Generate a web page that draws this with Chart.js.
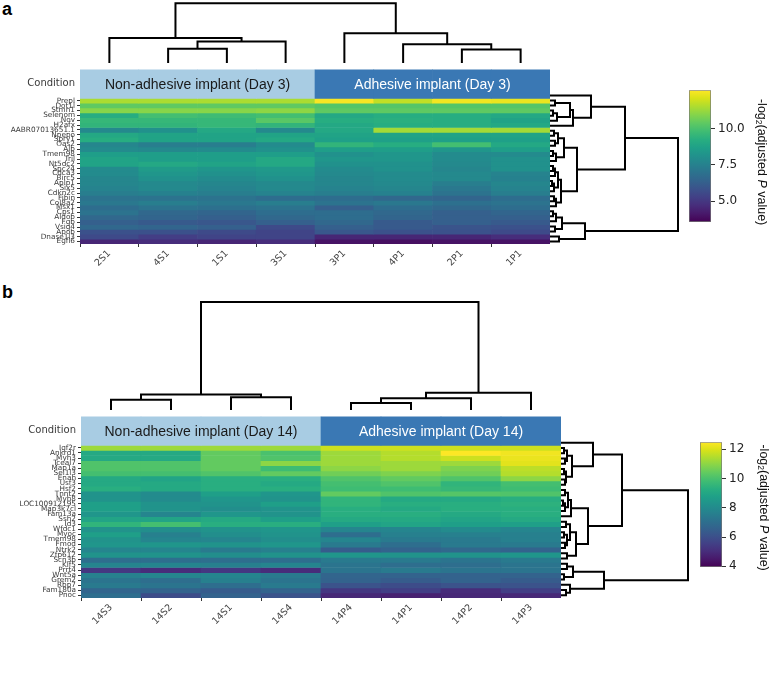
<!DOCTYPE html>
<html>
<head>
<meta charset="utf-8">
<script src="https://cdn.jsdelivr.net/npm/chart.js@4.4.1/dist/chart.umd.min.js"></script>
<style>
  body { margin: 0; background: #fff; width: 771px; height: 685px; position: relative; overflow: hidden; }
  canvas { position: absolute; }
  .panel { position: absolute; font: bold 18px 'Liberation Sans', Arial, sans-serif; color: #000; }
</style>
</head>
<body>
<div class="panel" style="left:2px;top:-1px">a</div>
<div class="panel" style="left:2px;top:282px">b</div>
<script>
/* ================= Data: panel a (Day 3) ================= */

const genesA = ['Prepl', 'Dot1l', 'Stmn1', 'Selenom', 'Nov', 'H2afx', 'AABR07013651.1', 'Npepo', 'Spry1', 'Oas2',
  'Alb', 'Tmem98', 'Tril', 'Nt5dc2', 'Spc24', 'Cdca3', 'Birc5', 'Aplp1', 'Six5', 'Cdkn2c',
  'Fibin', 'Col8a2', 'Msx1', 'Cps1', 'Aldob', 'Fgb', 'Vsig4', 'Apob', 'Dnase1l3', 'Egfl6'];
const samplesA = ['2S1', '4S1', '1S1', '3S1', '3P1', '4P1', '2P1', '1P1'];
const groupOfA = [0, 0, 0, 0, 1, 1, 1, 1];
const groupsA = ['Non-adhesive implant (Day 3)', 'Adhesive implant (Day 3)'];
const valuesA = [
  [11.5, 11.5, 11.5, 11.5, 12.6, 11.8, 12.5, 12.4],
  [10.4, 10.4, 10.4, 10.4, 10.2, 10.2, 10.2, 10.2],
  [11.0, 11.0, 11.0, 11.1, 10.4, 10.4, 10.4, 10.4],
  [9.2, 9.9, 9.8, 9.9, 9.0, 9.2, 9.2, 9.0],
  [9.6, 9.6, 9.6, 10.3, 9.2, 9.3, 9.2, 8.8],
  [9.5, 9.5, 9.6, 9.5, 9.0, 9.2, 9.2, 9.0],
  [7.8, 8.1, 9.0, 7.8, 9.0, 11.4, 11.4, 11.4],
  [9.0, 8.8, 8.8, 8.8, 8.8, 8.8, 8.8, 8.8],
  [9.2, 8.8, 8.8, 9.0, 8.7, 8.7, 8.7, 8.7],
  [7.7, 7.4, 7.4, 7.9, 9.5, 9.2, 9.9, 9.0],
  [7.9, 7.8, 7.9, 8.1, 8.6, 8.6, 8.3, 8.6],
  [8.6, 8.6, 8.6, 8.6, 8.1, 8.3, 7.9, 7.9],
  [8.8, 8.6, 8.6, 9.0, 8.3, 8.3, 7.9, 8.1],
  [8.8, 9.0, 8.8, 9.0, 8.1, 8.1, 7.8, 8.1],
  [7.9, 8.5, 8.3, 8.4, 7.9, 8.1, 7.7, 8.1],
  [7.9, 8.3, 8.1, 8.3, 7.8, 7.9, 7.8, 7.6],
  [7.7, 8.1, 7.9, 8.1, 7.7, 7.9, 7.8, 7.5],
  [7.7, 7.8, 7.7, 7.8, 7.7, 7.8, 7.4, 7.7],
  [7.6, 7.8, 7.6, 7.8, 7.6, 7.7, 7.2, 7.6],
  [7.4, 7.5, 7.4, 7.6, 7.4, 7.5, 7.0, 7.4],
  [7.0, 7.0, 7.0, 6.8, 6.8, 6.6, 6.5, 6.8],
  [7.2, 7.4, 7.2, 7.4, 7.0, 7.2, 6.9, 7.0],
  [6.8, 7.0, 6.9, 7.0, 6.3, 6.8, 6.6, 6.8],
  [7.0, 6.6, 6.5, 6.8, 6.8, 6.6, 6.3, 6.5],
  [6.6, 6.5, 6.3, 6.6, 6.8, 6.5, 6.3, 6.3],
  [6.3, 6.1, 6.0, 6.3, 6.6, 6.1, 6.3, 6.1],
  [6.6, 6.5, 6.3, 5.6, 6.3, 6.1, 5.9, 5.8],
  [5.8, 5.8, 5.6, 5.4, 6.0, 5.8, 5.8, 5.6],
  [5.6, 5.2, 5.4, 5.4, 4.5, 4.5, 4.5, 4.7],
  [4.5, 4.7, 4.5, 4.7, 4.0, 3.9, 4.0, 4.0]
];
// linkage: [child, child, height]; leaves are numbered in display order
const colLinkA = [[1, 2, 14.3], [8, 3, 21.5], [0, 9, 24.9], [6, 7, 13.6], [5, 11, 18.8], [4, 12, 29.7], [10, 13, 59.7]];
const rowLinkA = [
  [1, 2, 5], [3, 4, 3], [31, 5, 7], [30, 32, 20], [33, 6, 23], [0, 34, 41],
  [7, 8, 4], [9, 10, 5], [36, 37, 8], [11, 12, 3], [39, 13, 6], [38, 40, 14],
  [14, 15, 3], [42, 16, 5], [17, 18, 2], [44, 19, 4], [43, 45, 8], [20, 21, 4], [47, 22, 6], [46, 48, 11],
  [41, 49, 27], [35, 50, 75],
  [23, 24, 3], [52, 25, 6], [26, 27, 5], [53, 54, 12], [28, 29, 9], [55, 56, 35],
  [51, 57, 128]
];
const rangeA = [3.56, 12.67];
const cbarTicksA = [5.0, 7.5, 10.0];
const cbarLabelsA = ['5.0', '7.5', '10.0'];

/* ================= Data: panel b (Day 14) ================= */

const genesB = ['Igf2r', 'Ankrd1', 'Myh3', 'Tceal7', 'Map1a', 'Sel1l3', 'Enah', 'Usf3', 'Hsf2', 'Tnnt2',
  'Myh8', 'LOC100912195', 'Map3k7cl', 'Fam13a', 'Ssh2', 'Id3', 'Wfdc1', 'Myoc', 'Tmem98', 'Fmod',
  'Ntrk2', 'Zfp612', 'Scn3b', 'Klf5', 'Prrt4', 'Wnt5a', 'Grem2', 'Rbp7', 'Fam180a', 'Pnoc'];
const samplesB = ['14S3', '14S2', '14S1', '14S4', '14P4', '14P1', '14P2', '14P3'];
const groupOfB = [0, 0, 0, 0, 1, 1, 1, 1];
const groupsB = ['Non-adhesive implant (Day 14)', 'Adhesive implant (Day 14)'];
const valuesB = [
  [11.2, 11.2, 11.2, 11.2, 11.8, 11.8, 11.8, 11.8],
  [9.1, 9.1, 10.4, 10.0, 11.2, 11.5, 12.5, 12.3],
  [9.1, 9.1, 10.4, 10.1, 11.2, 11.5, 11.8, 12.2],
  [10.1, 10.1, 10.4, 11.0, 11.2, 11.2, 11.2, 12.1],
  [10.1, 10.1, 10.4, 9.8, 11.0, 11.2, 10.8, 11.6],
  [9.9, 9.9, 10.1, 10.4, 10.6, 10.8, 10.6, 11.5],
  [9.1, 8.9, 9.3, 9.3, 10.1, 10.4, 10.1, 11.0],
  [9.1, 9.1, 9.3, 9.1, 9.9, 10.1, 9.5, 9.9],
  [9.3, 9.1, 9.3, 9.3, 9.8, 9.8, 9.6, 9.8],
  [8.3, 8.0, 8.7, 8.4, 10.4, 10.1, 10.2, 10.1],
  [8.3, 8.0, 8.4, 8.3, 9.5, 9.1, 9.1, 9.3],
  [8.7, 8.3, 8.3, 8.7, 9.5, 9.3, 9.3, 9.4],
  [8.7, 8.3, 8.1, 8.3, 9.3, 9.1, 9.3, 9.3],
  [8.4, 7.8, 8.4, 8.3, 9.3, 9.3, 9.1, 9.3],
  [8.9, 8.9, 9.1, 8.7, 9.1, 9.1, 8.9, 9.1],
  [9.5, 9.9, 9.3, 9.3, 8.7, 8.9, 8.7, 8.7],
  [8.3, 8.1, 8.3, 8.4, 7.8, 7.8, 8.0, 7.8],
  [8.7, 7.6, 8.1, 8.3, 7.0, 7.6, 7.6, 7.6],
  [8.3, 7.8, 7.8, 8.1, 7.8, 7.4, 7.4, 7.6],
  [8.4, 8.4, 8.3, 8.4, 7.4, 7.0, 7.4, 7.4],
  [7.8, 7.8, 7.4, 7.6, 6.4, 6.6, 6.8, 6.6],
  [8.3, 8.3, 8.1, 8.3, 8.4, 8.3, 8.3, 8.4],
  [7.0, 7.0, 7.0, 7.0, 7.4, 7.4, 7.2, 7.4],
  [7.8, 7.8, 7.6, 7.8, 7.2, 7.0, 7.0, 7.2],
  [5.3, 5.0, 5.3, 5.0, 7.2, 7.4, 7.2, 7.2],
  [7.6, 7.8, 7.8, 7.4, 6.7, 6.6, 6.6, 6.6],
  [7.2, 7.0, 7.6, 7.2, 6.6, 6.4, 6.6, 6.4],
  [7.4, 7.2, 7.0, 7.4, 6.1, 5.9, 6.1, 6.1],
  [6.7, 6.6, 6.4, 6.6, 5.3, 5.5, 5.0, 5.5],
  [7.0, 5.9, 6.6, 6.1, 4.9, 4.7, 4.9, 4.9]
];
const colLinkB = [[0, 1, 10.3], [2, 3, 12.8], [8, 9, 15.5], [4, 5, 6.9], [11, 6, 11.7], [12, 7, 17.2], [10, 13, 108]];
const rowLinkB = [
  [1, 2, 3], [3, 4, 4], [30, 31, 6], [5, 6, 3], [7, 8, 4], [33, 34, 5], [32, 35, 11], [0, 36, 32],
  [9, 10, 4], [11, 12, 2], [39, 13, 4], [38, 40, 7], [41, 14, 10],
  [15, 16, 5], [17, 18, 3], [19, 20, 4], [44, 45, 6], [43, 46, 9], [21, 22, 6], [47, 48, 15],
  [42, 49, 27], [37, 50, 61],
  [23, 24, 6], [25, 26, 3], [52, 53, 12], [28, 29, 5], [27, 55, 9], [54, 56, 43],
  [51, 57, 127]
];
const rangeB = [3.95, 12.48];
const cbarTicksB = [4, 6, 8, 10, 12];
const cbarLabelsB = ['4', '6', '8', '10', '12'];

/* ================= Helpers ================= */

Chart.defaults.font.family = "'DejaVu Sans', sans-serif";
const GROUP_COLORS = ['#a8cce3', '#3a78b4'];
const VIRIDIS = ['#440154', '#48186a', '#472d7b', '#424086', '#3b528b', '#33638d', '#2c728e', '#26828e',
  '#21918c', '#1fa088', '#28ae80', '#3fbc73', '#5ec962', '#84d44b', '#addc30', '#d8e219', '#fde725'];

function hexRgb(h) { return [1, 3, 5].map(i => parseInt(h.substr(i, 2), 16)); }

function viridis(t) {
  t = Math.max(0, Math.min(1, t));
  const n = VIRIDIS.length - 1;
  const i = Math.min(n - 1, Math.floor(t * n));
  const f = t * n - i;
  const a = hexRgb(VIRIDIS[i]), b = hexRgb(VIRIDIS[i + 1]);
  return 'rgb(' + a.map((v, k) => Math.round(v + (b[k] - v) * f)).join(',') + ')';
}

function makeCanvas(left, top, w, h) {
  const c = document.createElement('canvas');
  c.width = w; c.height = h;
  c.style.left = left + 'px'; c.style.top = top + 'px';
  c.style.width = w + 'px'; c.style.height = h + 'px';
  document.body.appendChild(c);
  return c;
}

// text inside the condition bar
const condText = {
  id: 'condText',
  afterDatasetsDraw(chart, args, o) {
    const { ctx, scales: { x, y } } = chart;
    const yc = y.getPixelForValue(-o.units / 2);
    o.groups.forEach((g, k) => {
      const idx = o.groupOf.map((v, j) => v === k ? j : -1).filter(j => j >= 0);
      const xc = (x.getPixelForValue(idx[0]) + x.getPixelForValue(idx[idx.length - 1])) / 2;
      ctx.save();
      ctx.font = "14px 'Liberation Sans', Arial, sans-serif";
      ctx.fillStyle = k === 0 ? '#1a1a1a' : '#ffffff';
      ctx.textAlign = 'center';
      ctx.textBaseline = 'middle';
      ctx.fillText(g, xc, yc + 1);
      ctx.restore();
    });
  }
};

function heatmap(L, genes, samples, groupOf, groups, values, range) {
  const canvas = makeCanvas(L.left, L.top, L.width, L.height);
  const chartH = L.height - L.xH;
  const units = L.barPx * genes.length / (chartH - L.barPx);
  const color = v => viridis((v - range[0]) / (range[1] - range[0]));
  const datasets = [{
    data: samples.map(() => [-units, 0]),
    backgroundColor: groupOf.map(g => GROUP_COLORS[g])
  }].concat(genes.map((g, r) => ({
    data: samples.map(() => [r, r + 1]),
    backgroundColor: values[r].map(color)
  })));

  new Chart(canvas, {
    type: 'bar',
    data: { labels: samples, datasets: datasets },
    options: {
      responsive: false,
      animation: false,
      layout: { padding: 0 },
      datasets: { bar: { barPercentage: 1, categoryPercentage: 1, borderWidth: 0, grouped: false } },
      plugins: {
        legend: { display: false },
        tooltip: { enabled: false },
        condText: { units: units, groups: groups, groupOf: groupOf }
      },
      scales: {
        x: {
          grid: { drawOnChartArea: false, tickLength: 3, color: '#333' },
          border: { display: false },
          ticks: { minRotation: 45, maxRotation: 45, autoSkip: false, padding: 1, color: '#444', font: { size: 9.5 } },
          afterFit: s => { s.height = L.xH; }
        },
        y: {
          type: 'linear',
          reverse: true,
          min: -units,
          max: genes.length,
          afterBuildTicks: s => {
            s.ticks = [{ value: -units / 2 }].concat(genes.map((g, i) => ({ value: i + 0.5 })));
          },
          ticks: {
            autoSkip: false,
            padding: 2,
            color: '#3a3a3a',
            font: c => (c.tick && c.tick.value < 0) ? { size: 10 } : { size: 7.3 },
            callback: v => v < 0 ? 'Condition' : genes[Math.floor(v)]
          },
          grid: {
            drawOnChartArea: false,
            tickLength: 3,
            color: c => (c.tick && c.tick.value < 0) ? 'rgba(0,0,0,0)' : '#333'
          },
          border: { display: false },
          afterFit: s => { s.width = L.yW; }
        }
      }
    },
    plugins: [condText]
  });
}

// U-shaped links from a linkage table, in data units (leaf position, height)
function linkSegments(link, n) {
  const pos = [], hgt = [];
  for (let i = 0; i < n; i++) { pos[i] = i + 0.5; hgt[i] = 0; }
  return link.map(([a, b, h], k) => {
    pos[n + k] = (pos[a] + pos[b]) / 2;
    hgt[n + k] = h;
    return [[pos[a], hgt[a]], [pos[a], h], [pos[b], h], [pos[b], hgt[b]]];
  });
}

function dendrogram(box, link, n, orient, hMax) {
  const pad = 3;
  const canvas = makeCanvas(box.left - pad, box.top - pad, box.width + 2 * pad, box.height + 2 * pad);
  const segs = linkSegments(link, n);
  const isCol = orient === 'col';
  new Chart(canvas, {
    type: 'scatter',
    data: {
      datasets: segs.map(s => ({
        data: s.map(([p, h]) => isCol ? { x: p, y: h } : { x: h, y: p }),
        showLine: true,
        borderColor: '#000',
        borderWidth: 2,
        pointRadius: 0,
        clip: false
      }))
    },
    options: {
      responsive: false,
      animation: false,
      layout: { padding: pad },
      plugins: { legend: { display: false }, tooltip: { enabled: false } },
      scales: {
        x: { display: false, min: 0, max: isCol ? n : hMax },
        y: { display: false, min: 0, max: isCol ? hMax : n, reverse: !isCol }
      }
    }
  });
}

// rotated colour bar label with subscript and italic P
const cbarLabel = {
  id: 'cbarLabel',
  afterDraw(chart, args, o) {
    const { ctx, chartArea } = chart;
    const parts = [
      ["12.5px 'Liberation Sans', Arial", '-log', 0],
      ["8.5px 'Liberation Sans', Arial", '2', 3],
      ["12.5px 'Liberation Sans', Arial", '(adjusted ', 0],
      ["italic 12.5px 'Liberation Sans', Arial", 'P', 0],
      ["12.5px 'Liberation Sans', Arial", ' value)', 0]
    ];
    ctx.save();
    let total = 0;
    parts.forEach(p => { ctx.font = p[0]; total += ctx.measureText(p[1]).width; });
    ctx.translate(o.x, (chartArea.top + chartArea.bottom) / 2 + o.dy);
    ctx.rotate(Math.PI / 2);
    ctx.fillStyle = '#111';
    ctx.textBaseline = 'middle';
    let cx = -total / 2;
    parts.forEach(p => {
      ctx.font = p[0];
      ctx.fillText(p[1], cx, p[2]);
      cx += ctx.measureText(p[1]).width;
    });
    ctx.restore();
  }
};

function colorbar(C, range, ticks, labels) {
  const canvas = makeCanvas(C.left, C.top, C.width, C.height);
  new Chart(canvas, {
    type: 'bar',
    data: {
      labels: [''],
      datasets: [{
        data: [[range[0], range[1]]],
        backgroundColor: ctx => {
          const a = ctx.chart.chartArea;
          if (!a) return '#21918c';
          const g = ctx.chart.ctx.createLinearGradient(0, a.bottom, 0, a.top);
          VIRIDIS.forEach((c, i) => g.addColorStop(i / (VIRIDIS.length - 1), c));
          return g;
        },
        borderColor: '#777',
        borderWidth: 1,
        borderSkipped: false,
        barPercentage: 1,
        categoryPercentage: 1
      }]
    },
    options: {
      responsive: false,
      animation: false,
      layout: { padding: { top: C.padTop, bottom: C.padBottom, left: 0, right: 0 } },
      plugins: { legend: { display: false }, tooltip: { enabled: false }, cbarLabel: { x: C.labelX, dy: C.labelDy } },
      scales: {
        x: { display: false },
        y: {
          position: 'right',
          min: range[0],
          max: range[1],
          afterBuildTicks: s => { s.ticks = ticks.map(v => ({ value: v })); },
          ticks: {
            autoSkip: false,
            padding: 3,
            color: '#222',
            font: { size: 12 },
            callback: v => labels[ticks.indexOf(v)]
          },
          grid: { drawOnChartArea: false, tickLength: 4, color: '#333' },
          border: { display: false },
          afterFit: s => { s.width = C.width - C.barW; }
        }
      }
    },
    plugins: [cbarLabel]
  });
}

/* ================= Panel a ================= */

heatmap({ left: 0, top: 63, width: 550, height: 221, xH: 40, yW: 80, barPx: 30 },
  genesA, samplesA, groupOfA, groupsA, valuesA, rangeA);
dendrogram({ left: 80, top: 1, width: 470, height: 62 }, colLinkA, samplesA.length, 'col', 62);
dendrogram({ left: 550, top: 93, width: 130, height: 151 }, rowLinkA, genesA.length, 'row', 130);
colorbar({ left: 689, top: 80, width: 82, height: 160, barW: 22, padTop: 8, padBottom: 18, labelX: 72, labelDy: 6 },
  rangeA, cbarTicksA, cbarLabelsA);

/* ================= Panel b ================= */

heatmap({ left: 0, top: 410, width: 561, height: 230, xH: 42, yW: 81, barPx: 30 },
  genesB, samplesB, groupOfB, groupsB, valuesB, rangeB);
dendrogram({ left: 81, top: 298, width: 480, height: 112 }, colLinkB, samplesB.length, 'col', 112);
dendrogram({ left: 561, top: 440, width: 130, height: 158 }, rowLinkB, genesB.length, 'row', 130);
colorbar({ left: 700, top: 432, width: 71, height: 150, barW: 22, padTop: 8, padBottom: 15, labelX: 63, labelDy: 3 },
  rangeB, cbarTicksB, cbarLabelsB);
</script>
</body>
</html>
